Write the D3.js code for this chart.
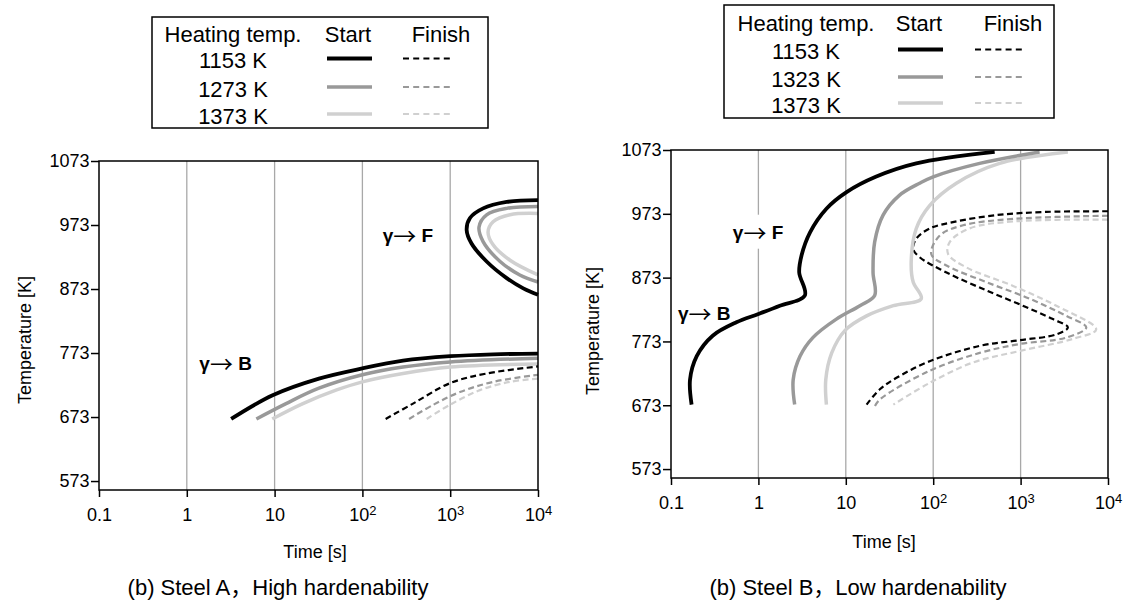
<!DOCTYPE html>
<html>
<head>
<meta charset="utf-8">
<script src="https://cdn.jsdelivr.net/npm/d3@7"></script>
<style>
  body { margin: 0; background: #fff; }
  svg { font-family: "Liberation Sans", Arial, sans-serif; }
</style>
</head>
<body>
<script>
// axis ticks
var timeTicks = [0.1, 1, 10, 100, 1000, 10000];
var tempTicks = [573, 673, 773, 873, 973, 1073];
var gridTimes = [1, 10, 100, 1000];

var legendHeader = ["Heating temp.", "Start", "Finish"];
var heatA = ["1153 K", "1273 K", "1373 K"];
var heatB = ["1153 K", "1323 K", "1373 K"];
var colors = ["#000000", "#999999", "#d0d0d0"];

// Steel A, [time s, temperature K]
// bainite start
var aStart1153 = [[3.2,670],[9.5,707],[32,733],[100,749],[290,761],[1000,768],[3100,771],[10000,772]];
var aStart1273 = [[6.2,670],[13.5,694],[32,718],[100,739],[290,751],[1000,759],[10000,765]];
var aStart1373 = [[9.4,670],[21,694],[50,715],[100,728],[290,741],[1000,751],[10000,756]];
// ferrite start (C-curve nose)
var aFerr1153 = [[10000,1012],[4400,1009],[2370,999],[1680,984],[1540,965],[1750,944],[2600,916],[4400,890],[6800,874],[10000,864]];
var aFerr1273 = [[10000,1002],[4400,999],[2600,989],[2130,970],[2370,947],[3700,916],[6200,895],[10000,884]];
var aFerr1373 = [[10000,991],[4800,989],[3080,978],[2700,962],[3080,942],[4800,918],[10000,895]];
// finish
var aFin1153 = [[184,670],[377,694],[1000,726],[2600,741],[10000,752]];
var aFin1273 = [[340,670],[640,692],[1290,712],[3100,728],[10000,739]];
var aFin1373 = [[540,670],[990,692],[2180,715],[4800,728],[10000,733]];

// Steel B
var bStart1153 = [[0.172,674],[0.165,713],[0.197,750],[0.30,782],[0.56,803],[1.0,816],[1.76,829],[3.4,845],[2.93,881],[3.12,908],[3.9,944],[6.0,981],[10.2,1007],[22,1031],[64,1052],[505,1070]];
var bStart1323 = [[2.6,674],[2.5,713],[3.0,750],[4.2,779],[7.8,808],[14.5,829],[21.4,845],[20.5,881],[21.4,929],[26.7,971],[41,1002],[70,1021],[100,1031],[340,1052],[1650,1070]];
var bStart1373 = [[6.0,674],[5.9,713],[6.9,755],[9.75,790],[17.3,813],[35,829],[73,840],[59,866],[56,897],[64,950],[91,986],[184,1021],[575,1052],[3475,1070]];
var bFin1153 = [[10000,977],[1970,976],[530,971],[168,960],[91,950],[64,934],[59,918],[70,905],[142,881],[405,853],[1060,829],[2340,808],[3475,795],[2560,784],[975,775],[340,766],[91,742],[38,716],[24.5,698],[17.3,674]];
var bFin1323 = [[10000,970],[820,965],[220,955],[119,939],[95,910],[142,892],[405,866],[1270,840],[3330,813],[5640,795],[3330,779],[975,769],[340,755],[91,727],[24.5,682],[21.4,671]];
var bFin1373 = [[10000,964],[820,961],[260,950],[155,929],[148,910],[240,889],[820,860],[2560,829],[7330,792],[3960,777],[975,758],[285,740],[91,708],[35,674]];

// region labels: [phase, time, temperature]
var annA = [["B", 1.39, 747], ["F", 170, 946]];
var annB = [["F", 0.51, 934], ["B", 0.12, 806]];

var svg = d3.select("body").append("svg").attr("width", 1126).attr("height", 601);

var panels = [
  {
    left: 99, right: 538, top: 161, bottom: 490,
    heats: heatA,
    series: [
      {heat: 0, dash: false, pts: aStart1153}, {heat: 1, dash: false, pts: aStart1273}, {heat: 2, dash: false, pts: aStart1373},
      {heat: 0, dash: false, pts: aFerr1153}, {heat: 1, dash: false, pts: aFerr1273}, {heat: 2, dash: false, pts: aFerr1373},
      {heat: 2, dash: true, pts: aFin1373}, {heat: 1, dash: true, pts: aFin1273}, {heat: 0, dash: true, pts: aFin1153}
    ],
    ann: annA, annBg: [false, false],
    legend: {x0: 152, y0: 17, x1: 488, y1: 128, cols: [233, 348, 441], head: 42, rows: [68, 96.5, 123.5], sx: [327, 372], fx: [403, 450]},
    ylab: [25, 340], xlab: [315, 558], caption: ["(b) Steel A", "High hardenability"], cap: [278, 595]
  },
  {
    left: 671, right: 1108, top: 150, bottom: 478,
    heats: heatB,
    series: [
      {heat: 2, dash: true, pts: bFin1373}, {heat: 1, dash: true, pts: bFin1323}, {heat: 0, dash: true, pts: bFin1153},
      {heat: 2, dash: false, pts: bStart1373}, {heat: 1, dash: false, pts: bStart1323}, {heat: 0, dash: false, pts: bStart1153}
    ],
    ann: annB, annBg: [true, false],
    legend: {x0: 724, y0: 5, x1: 1054, y1: 118, cols: [806, 919, 1013], head: 31, rows: [59, 86.5, 112.5], sx: [898, 943], fx: [975, 1022]},
    ylab: [593, 331], xlab: [884, 548], caption: ["(b) Steel B", "Low hardenability"], cap: [858, 595]
  }
];

panels.forEach(drawPanel);

function drawPanel(p) {
  var x = d3.scaleLog().domain([0.1, 10000]).range([p.left, p.right]);
  var y = d3.scaleLinear().domain([559, 1073]).range([p.bottom, p.top]);
  var g = svg.append("g");

  g.selectAll(".grid").data(gridTimes).enter().append("line")
    .attr("x1", function (d) { return x(d); })
    .attr("x2", function (d) { return x(d); })
    .attr("y1", p.top).attr("y2", p.bottom)
    .attr("stroke", "#a8a8a8").attr("stroke-width", 1.3);

  // labels inside the plot
  p.ann.forEach(function (a, i) {
    var t = g.append("text")
      .attr("x", x(a[1])).attr("y", y(a[2]))
      .attr("font-size", 19).attr("font-weight", "bold");
    t.append("tspan").text("\u03B3");
    t.append("tspan").attr("font-weight", "normal").attr("font-family", "Noto Sans CJK JP")
      .attr("font-size", 23).attr("dy", 3).text("\u2192");
    t.append("tspan").attr("dy", -3).text(" " + a[0]);
    if (p.annBg[i]) {
      var bb = t.node().getBBox();
      g.insert("rect", "text").attr("x", bb.x - 2).attr("y", bb.y).attr("width", bb.width + 4).attr("height", bb.height).attr("fill", "#fff");
    }
  });

  var line = d3.line()
    .x(function (d) { return x(d[0]); })
    .y(function (d) { return y(d[1]); })
    .curve(d3.curveCatmullRom.alpha(0.5));

  g.selectAll(".curve").data(p.series).enter().append("path")
    .attr("d", function (d) { return line(d.pts); })
    .attr("fill", "none")
    .attr("stroke", function (d) { return colors[d.heat]; })
    .attr("stroke-width", function (d) { return d.dash ? 2.2 : (d.heat == 0 ? 3.8 : 3.5); })
    .attr("stroke-dasharray", function (d) { return d.dash ? "6,3.5" : null; });

  g.append("rect")
    .attr("x", p.left).attr("y", p.top)
    .attr("width", p.right - p.left).attr("height", p.bottom - p.top)
    .attr("fill", "none").attr("stroke", "#000").attr("stroke-width", 1.5);

  var xa = g.append("g").attr("transform", "translate(0," + p.bottom + ")")
    .call(d3.axisBottom(x).tickValues(timeTicks).tickSize(7).tickSizeOuter(0).tickPadding(11));
  xa.attr("font-size", 18).attr("font-family", null);
  xa.select(".domain").remove();
  xa.selectAll(".tick line").attr("stroke-width", 1.5);
  xa.selectAll(".tick text").attr("fill", "#000").each(function (d) {
    var t = d3.select(this), e = Math.round(Math.log10(d));
    if (e >= 2) {
      t.text("10");
      t.append("tspan").attr("dy", "-0.45em").attr("font-size", 13).text(e);
    } else {
      t.text(d);
    }
  });

  var ya = g.append("g").attr("transform", "translate(" + p.left + ",0)")
    .call(d3.axisLeft(y).tickValues(tempTicks).tickSize(8).tickSizeOuter(0).tickPadding(1.5).tickFormat(d3.format("d")));
  ya.attr("font-size", 18).attr("font-family", null);
  ya.select(".domain").remove();
  ya.selectAll(".tick line").attr("stroke-width", 1.5);
  ya.selectAll(".tick text").attr("fill", "#000");

  g.append("text")
    .attr("transform", "translate(" + p.ylab[0] + "," + p.ylab[1] + ") rotate(-90)")
    .attr("dy", "0.35em").attr("text-anchor", "middle").attr("font-size", 18)
    .text("Temperature [K]");
  g.append("text")
    .attr("x", p.xlab[0]).attr("y", p.xlab[1])
    .attr("text-anchor", "middle").attr("font-size", 18)
    .text("Time [s]");
  var cap = g.append("text")
    .attr("x", p.cap[0]).attr("y", p.cap[1])
    .attr("text-anchor", "middle").attr("font-size", 22);
  cap.append("tspan").text(p.caption[0]);
  cap.append("tspan").attr("font-family", "Noto Sans CJK JP").text("\uFF0C");
  cap.append("tspan").text(p.caption[1]);

  // legend
  var L = p.legend;
  var lg = svg.append("g").attr("font-size", 22);
  lg.append("rect").attr("x", L.x0).attr("y", L.y0)
    .attr("width", L.x1 - L.x0).attr("height", L.y1 - L.y0)
    .attr("fill", "#fff").attr("stroke", "#000").attr("stroke-width", 1.5);
  lg.selectAll(".head").data(legendHeader).enter().append("text")
    .attr("x", function (d, i) { return L.cols[i]; })
    .attr("y", L.head).attr("text-anchor", "middle").text(function (d) { return d; });
  p.heats.forEach(function (h, i) {
    lg.append("text").attr("x", L.cols[0]).attr("y", L.rows[i])
      .attr("text-anchor", "middle").text(h);
    lg.append("line").attr("x1", L.sx[0]).attr("x2", L.sx[1])
      .attr("y1", L.rows[i] - 9.5).attr("y2", L.rows[i] - 9.5)
      .attr("stroke", colors[i]).attr("stroke-width", i == 0 ? 3.8 : 3.5);
    lg.append("line").attr("x1", L.fx[0]).attr("x2", L.fx[1])
      .attr("y1", L.rows[i] - 9.5).attr("y2", L.rows[i] - 9.5)
      .attr("stroke", colors[i]).attr("stroke-width", 2)
      .attr("stroke-dasharray", "6,4.2");
  });
}
</script>
</body>
</html>
